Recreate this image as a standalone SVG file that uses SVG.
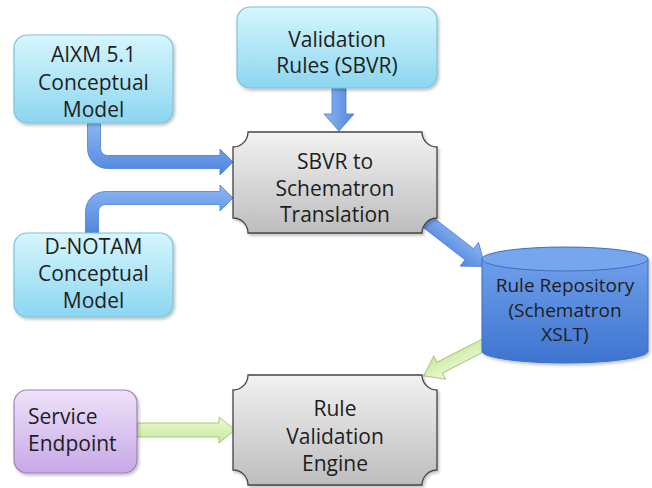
<svg xmlns="http://www.w3.org/2000/svg" width="652" height="488" viewBox="0 0 652 488">
<defs>
<linearGradient id="gCyan" x1="0" y1="0" x2="0" y2="1"><stop offset="0" stop-color="#d6f6fd"/><stop offset="1" stop-color="#8cd6f0"/></linearGradient>
<linearGradient id="gPurple" x1="0" y1="0" x2="0" y2="1"><stop offset="0" stop-color="#efe2fa"/><stop offset="1" stop-color="#c6a8e6"/></linearGradient>
<linearGradient id="gGray" x1="0" y1="0" x2="0" y2="1"><stop offset="0" stop-color="#f2f2f2"/><stop offset="1" stop-color="#bdbdbd"/></linearGradient>
<linearGradient id="gCyl" x1="0" y1="0" x2="0" y2="1"><stop offset="0" stop-color="#6f9fea"/><stop offset="1" stop-color="#3e74d0"/></linearGradient>
<linearGradient id="gBlue" x1="0" y1="0" x2="0" y2="1"><stop offset="0" stop-color="#8db6f2"/><stop offset="1" stop-color="#4f86de"/></linearGradient>
<linearGradient id="gBlueV" x1="0" y1="0" x2="1" y2="0"><stop offset="0" stop-color="#8db6f2"/><stop offset="1" stop-color="#4f86de"/></linearGradient>
<linearGradient id="gGreen" x1="0" y1="0" x2="0" y2="1"><stop offset="0" stop-color="#eefad8"/><stop offset="1" stop-color="#c6e89a"/></linearGradient>
<filter id="sh" x="-10%" y="-10%" width="130%" height="130%"><feDropShadow dx="1.5" dy="2" stdDeviation="1.5" flood-color="#000" flood-opacity="0.25"/></filter>
</defs>
<style>
.t{font-family:"Open Sans","Noto Sans","Liberation Sans",sans-serif;font-size:21px;fill:#1e1e1e;text-anchor:middle}
.s{font-size:19px}
.l{text-anchor:start}
.cy{fill:url(#gCyan);stroke:#7cc2dc;stroke-width:1.2}
.pu{fill:url(#gPurple);stroke:#9a82b8;stroke-width:1.2}
.gr{fill:url(#gGray);stroke:#444;stroke-width:1.3}
.ab{fill:url(#gBlue);stroke:#4a7fd4;stroke-width:0.8}
.abv{fill:url(#gBlueV);stroke:#4a7fd4;stroke-width:0.8}
.ag{fill:url(#gGreen);stroke:#a4c878;stroke-width:1}
</style>
<g id="connectors">
<path class="ab" d="M87.5,123 V148.5 A20,20 0 0 0 107.5,168.5 H220 V175 L233,162 L220,149 V155.5 H107.5 A7,7 0 0 1 100.5,148.5 V123 Z"/>
<path class="ab" d="M85.5,233 V211.5 A20,20 0 0 1 105.5,191.5 H220 V185 L233,198 L220,211 V204.5 H105.5 A7,7 0 0 0 98.5,211.5 V233 Z"/>
<path class="abv" d="M332,88 H346 V114 H354 L339,131 L324,114 H332 Z"/>
<g transform="translate(425,220) rotate(37.7)"><path class="ab" d="M0,-7 H56 V-15 L76,0 L56,15 V7 H0 Z"/></g>
<g transform="translate(486,344) rotate(153)"><path class="ag" d="M0,-6 H52 V-13 L70,0 L52,13 V6 H0 Z"/></g>
<path class="ag" d="M137,423 H219 V417 L235,430 L219,443 V437 H137 Z"/>
</g>
<g id="aixm" filter="url(#sh)"><rect class="cy" x="14" y="35" width="159" height="88" rx="13"/></g>
<g id="aixm-text"><text class="t" x="93.5" y="62">AIXM 5.1</text><text class="t" x="93.5" y="90">Conceptual</text><text class="t" x="93.5" y="117">Model</text></g>
<g id="validation" filter="url(#sh)"><rect class="cy" x="237" y="7" width="200" height="81" rx="13"/></g>
<g id="validation-text"><text class="t" x="337" y="47">Validation</text><text class="t" x="337" y="73">Rules (SBVR)</text></g>
<g id="dnotam" filter="url(#sh)"><rect class="cy" x="14" y="233" width="159" height="84" rx="13"/></g>
<g id="dnotam-text"><text class="t" x="93.5" y="254">D-NOTAM</text><text class="t" x="93.5" y="281">Conceptual</text><text class="t" x="93.5" y="308">Model</text></g>
<g id="translation" filter="url(#sh)"><path class="gr" d="M248,132 H422 A15,15 0 0 0 437,147 V218 A15,15 0 0 0 422,233 H248 A15,15 0 0 0 233,218 V147 A15,15 0 0 0 248,132 Z"/></g>
<g id="translation-text"><text class="t" x="335" y="169">SBVR to</text><text class="t" x="335" y="196">Schematron</text><text class="t" x="335" y="222">Translation</text></g>
<g id="repository" filter="url(#sh)">
<path d="M482,259 V351 A83,12 0 0 0 648,351 V259 Z" fill="url(#gCyl)" stroke="#3d6fc4" stroke-width="1"/>
<ellipse cx="565" cy="259" rx="83" ry="12" fill="#75a6ee" stroke="#3d6fc4" stroke-width="1"/>
</g>
<g id="repository-text"><text class="t s" x="565" y="292">Rule Repository</text><text class="t s" x="565" y="317">(Schematron</text><text class="t s" x="565" y="341">XSLT)</text></g>
<g id="service" filter="url(#sh)"><rect class="pu" x="14" y="390" width="123" height="83" rx="13"/></g>
<g id="service-text"><text class="t l" x="28" y="424">Service</text><text class="t l" x="28" y="451">Endpoint</text></g>
<g id="engine" filter="url(#sh)"><path class="gr" d="M248,375 H422 A15,15 0 0 0 437,390 V470 A15,15 0 0 0 422,485 H248 A15,15 0 0 0 233,470 V390 A15,15 0 0 0 248,375 Z"/></g>
<g id="engine-text"><text class="t" x="335" y="416">Rule</text><text class="t" x="335" y="444">Validation</text><text class="t" x="335" y="471">Engine</text></g>
</svg>
